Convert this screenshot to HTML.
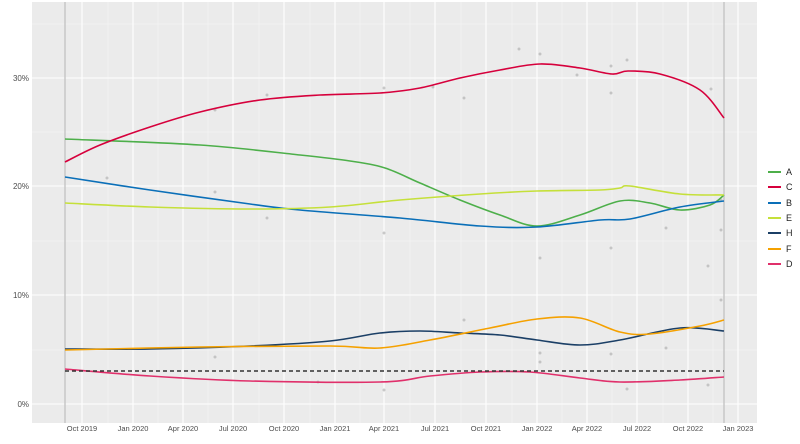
<!DOCTYPE html><html><head><style>body{margin:0;background:#fff}svg{display:block;font-family:"Liberation Sans",sans-serif}</style></head><body>
<svg id="s" width="800" height="444" viewBox="0 0 800 444">
<rect x="32" y="2" width="725" height="421" fill="#ebebeb"/>
<g stroke="#f5f5f5" stroke-width="0.6">
<line x1="32" x2="757" y1="132" y2="132"/><line x1="32" x2="757" y1="241" y2="241"/><line x1="32" x2="757" y1="350" y2="350"/><line x1="32" x2="757" y1="24" y2="24"/>
<line x1="108" x2="108" y1="2" y2="423"/><line x1="158" x2="158" y1="2" y2="423"/><line x1="208" x2="208" y1="2" y2="423"/><line x1="259" x2="259" y1="2" y2="423"/><line x1="310" x2="310" y1="2" y2="423"/><line x1="360" x2="360" y1="2" y2="423"/><line x1="410" x2="410" y1="2" y2="423"/><line x1="461" x2="461" y1="2" y2="423"/><line x1="512" x2="512" y1="2" y2="423"/><line x1="562" x2="562" y1="2" y2="423"/><line x1="612" x2="612" y1="2" y2="423"/><line x1="663" x2="663" y1="2" y2="423"/><line x1="713" x2="713" y1="2" y2="423"/>
</g>
<g stroke="#fff" stroke-width="1.1">
<line x1="32" x2="757" y1="78" y2="78"/><line x1="32" x2="757" y1="186" y2="186"/><line x1="32" x2="757" y1="295" y2="295"/><line x1="32" x2="757" y1="404" y2="404"/>
<line x1="82" x2="82" y1="2" y2="423"/><line x1="133" x2="133" y1="2" y2="423"/><line x1="183" x2="183" y1="2" y2="423"/><line x1="233" x2="233" y1="2" y2="423"/><line x1="284" x2="284" y1="2" y2="423"/><line x1="335" x2="335" y1="2" y2="423"/><line x1="384" x2="384" y1="2" y2="423"/><line x1="435" x2="435" y1="2" y2="423"/><line x1="486" x2="486" y1="2" y2="423"/><line x1="537" x2="537" y1="2" y2="423"/><line x1="587" x2="587" y1="2" y2="423"/><line x1="637" x2="637" y1="2" y2="423"/><line x1="688" x2="688" y1="2" y2="423"/><line x1="738" x2="738" y1="2" y2="423"/>
</g>
<line x1="65" x2="65" y1="2" y2="423" stroke="#c8c8c8" stroke-width="1.5"/>
<line x1="724" x2="724" y1="2" y2="423" stroke="#c8c8c8" stroke-width="1.5"/>
<g fill="#aaa" opacity="0.6">
<circle cx="107" cy="178" r="1.5"/><circle cx="215" cy="110" r="1.5"/><circle cx="215" cy="192" r="1.5"/><circle cx="267" cy="95" r="1.5"/><circle cx="267" cy="218" r="1.5"/><circle cx="384" cy="88" r="1.5"/><circle cx="384" cy="233" r="1.5"/><circle cx="433" cy="87" r="1.5"/><circle cx="464" cy="98" r="1.5"/><circle cx="519" cy="49" r="1.5"/><circle cx="540" cy="54" r="1.5"/><circle cx="540" cy="258" r="1.5"/><circle cx="577" cy="75" r="1.5"/><circle cx="611" cy="66" r="1.5"/><circle cx="611" cy="248" r="1.5"/><circle cx="627" cy="60" r="1.5"/><circle cx="611" cy="93" r="1.5"/><circle cx="666" cy="228" r="1.5"/><circle cx="711" cy="89" r="1.5"/><circle cx="708" cy="266" r="1.5"/><circle cx="215" cy="357" r="1.5"/><circle cx="384" cy="390" r="1.5"/><circle cx="540" cy="353" r="1.5"/><circle cx="611" cy="354" r="1.5"/><circle cx="708" cy="385" r="1.5"/><circle cx="464" cy="320" r="1.5"/><circle cx="318" cy="382" r="1.5"/><circle cx="540" cy="362" r="1.5"/><circle cx="627" cy="389" r="1.5"/><circle cx="666" cy="348" r="1.5"/><circle cx="721" cy="200" r="1.5"/><circle cx="721" cy="230" r="1.5"/><circle cx="721" cy="300" r="1.5"/>
</g>
<g id="lines" fill="none" stroke-width="1.6" stroke-linejoin="round">
<polyline stroke="#4daf4a" points="65,139 200,145 300,155 350,161 385,168 420,183 460,200 500,215 537,226 580,215 620,201 650,203 680,210 710,205 724,195"/>
<polyline stroke="#d6003c" points="65,162 100,145 150,127 200,112 260,100 320,95 380,93 420,88 460,78 500,70 540,64 580,68 612,74 628,71 660,74 700,90 724,118"/>
<polyline stroke="#0a6fb8" points="65,177 150,190 250,204 300,210 400,218 480,226 537,227 600,220 630,219 680,207 724,201"/>
<polyline stroke="#c5e03a" points="65,203 150,207 250,209 330,207 400,200 480,194 537,191 600,190 620,188 630,186 680,194 724,195"/>
<polyline stroke="#1b3f66" points="65,349 150,349 250,346 330,341 380,333 420,331 460,333 500,335 537,340 580,345 620,340 680,328 724,331"/>
<polyline stroke="#f5a100" points="65,350 200,347 330,346 380,348 430,340 490,328 537,319 580,318 620,332 650,334 700,326 724,320"/>
<polyline stroke="#e0306b" points="65,369 150,376 250,381 380,382 430,376 480,372 530,372 580,378 620,382 680,380 724,377"/>
</g>
<line x1="65" x2="724" y1="371" y2="371" stroke="#333" stroke-width="1.5" stroke-dasharray="4,3"/>
<g font-size="8" fill="#4d4d4d" text-anchor="end">
<text x="29" y="81">30%</text><text x="29" y="189">20%</text><text x="29" y="298">10%</text><text x="29" y="407">0%</text>
</g>
<g font-size="7.5" fill="#4d4d4d" text-anchor="middle">
<text x="82" y="431">Oct 2019</text><text x="133" y="431">Jan 2020</text><text x="183" y="431">Apr 2020</text><text x="233" y="431">Jul 2020</text><text x="284" y="431">Oct 2020</text><text x="335" y="431">Jan 2021</text><text x="384" y="431">Apr 2021</text><text x="435" y="431">Jul 2021</text><text x="486" y="431">Oct 2021</text><text x="537" y="431">Jan 2022</text><text x="587" y="431">Apr 2022</text><text x="637" y="431">Jul 2022</text><text x="688" y="431">Oct 2022</text><text x="738" y="431">Jan 2023</text>
</g>
<g stroke-width="2">
<line x1="768" x2="781" y1="172" y2="172" stroke="#4daf4a"/><line x1="768" x2="781" y1="187" y2="187" stroke="#d6003c"/><line x1="768" x2="781" y1="203" y2="203" stroke="#0a6fb8"/><line x1="768" x2="781" y1="218" y2="218" stroke="#c5e03a"/><line x1="768" x2="781" y1="233" y2="233" stroke="#1b3f66"/><line x1="768" x2="781" y1="249" y2="249" stroke="#f5a100"/><line x1="768" x2="781" y1="264" y2="264" stroke="#e0306b"/>
</g>
<g font-size="9" fill="#222">
<text x="786" y="175">A</text><text x="786" y="190">C</text><text x="786" y="206">B</text><text x="786" y="221">E</text><text x="786" y="236">H</text><text x="786" y="252">F</text><text x="786" y="267">D</text>
</g>
</svg>
<script>
document.querySelectorAll('#lines polyline').forEach(function(pl){
var p=pl.getAttribute('points').trim().split(/\s+/).map(function(s){return s.split(',').map(Number)});
var d='M'+p[0][0]+','+p[0][1];
for(var i=0;i<p.length-1;i++){var a=p[Math.max(i-1,0)],b=p[i],c=p[i+1],e=p[Math.min(i+2,p.length-1)];
d+=' C'+(b[0]+(c[0]-a[0])/6)+','+(b[1]+(c[1]-a[1])/6)+' '+(c[0]-(e[0]-b[0])/6)+','+(c[1]-(e[1]-b[1])/6)+' '+c[0]+','+c[1];}
var path=document.createElementNS('http://www.w3.org/2000/svg','path');
path.setAttribute('d',d);path.setAttribute('stroke',pl.getAttribute('stroke'));
pl.parentNode.replaceChild(path,pl);});
</script>
</body></html>
